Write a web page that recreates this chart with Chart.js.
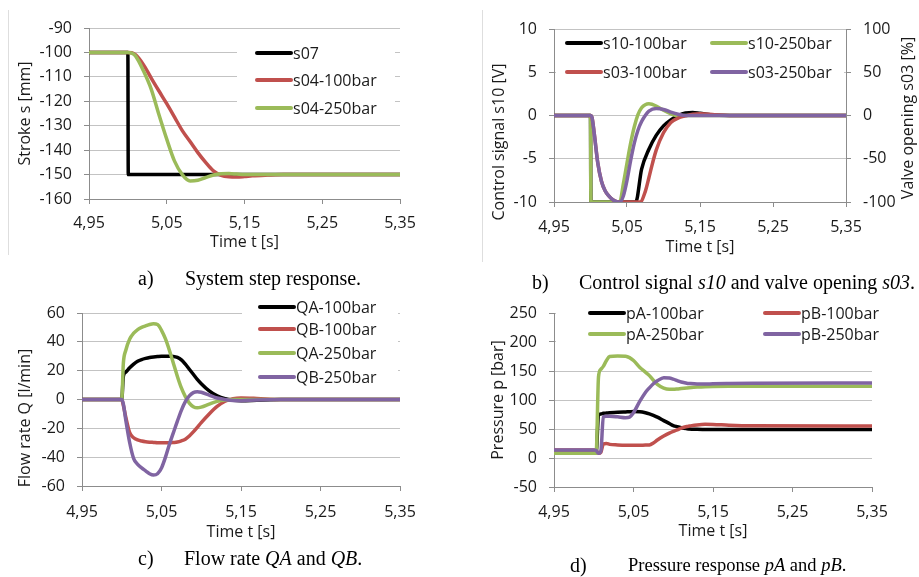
<!DOCTYPE html>
<html>
<head>
<meta charset="utf-8">
<script src="https://cdn.jsdelivr.net/npm/chart.js@4.4.0/dist/chart.umd.min.js"></script>
<style>
  body { margin: 0; background: #fff; width: 919px; height: 577px; position: relative; overflow: hidden; }
  .box { position: absolute; }
  .frame { position: absolute; width: 1px; background: #dedede; }
  .cap { position: absolute; font-family: "Liberation Serif", serif; font-size: 20px; color: #000; white-space: nowrap; line-height: 20px; }
</style>
</head>
<body>
<div class="frame" style="left:8px;top:10px;height:245px"></div>
<div class="frame" style="left:482px;top:10px;height:252px"></div>

<div class="box" style="left:0;top:0"><canvas id="chartA" width="460" height="262"></canvas></div>
<div class="box" style="left:460px;top:0"><canvas id="chartB" width="459" height="262"></canvas></div>
<div class="box" style="left:0;top:288px"><canvas id="chartC" width="460" height="262"></canvas></div>
<div class="box" style="left:460px;top:288px"><canvas id="chartD" width="459" height="262"></canvas></div>

<div class="cap" style="left:138px;top:268px">a)</div>
<div class="cap" style="left:185px;top:268px">System step response.</div>
<div class="cap" style="left:532px;top:272px">b)</div>
<div class="cap" style="left:579px;top:272px">Control signal <i>s10</i> and valve opening <i>s03</i>.</div>
<div class="cap" style="left:138px;top:548px">c)</div>
<div class="cap" style="left:184px;top:548px">Flow rate <i>QA</i> and <i>QB</i>.</div>
<div class="cap" style="left:570px;top:555px">d)</div>
<div class="cap" style="left:628px;top:555px;font-size:18.5px">Pressure response <i>pA</i> and <i>pB</i>.</div>

<script>
// shared x axis ticks (time in s)
const xTicks = [4.95, 5.05, 5.15, 5.25, 5.35];

// a) stroke [mm]
const s07Time = [4.95, 5.0, 5.0005, 5.35];
const s07 = [-100, -100, -150, -150];
const s04Time = [4.95, 5.0, 5.005, 5.01, 5.02, 5.03, 5.04, 5.05, 5.06, 5.07, 5.08, 5.09, 5.1, 5.11, 5.12, 5.13, 5.14, 5.15, 5.16, 5.18, 5.2, 5.35];
const s04_100 = [-100, -100, -100.1, -101, -105, -110.5, -115.8, -121, -126.5, -132, -136.5, -141, -145, -148.5, -150.3, -150.9, -151, -150.8, -150.5, -150.2, -150, -150];
const s04_250 = [-100, -100, -100.3, -101.5, -107.5, -115, -125.5, -135.5, -144.5, -150, -152.6, -152.3, -151.2, -150.2, -149.7, -149.6, -149.8, -150, -150, -150, -150, -150];

// b) control signal s10 [V] and valve opening s03 [%]
const s10_100Time = [4.95, 5.0, 5.0005, 5.062, 5.07, 5.08, 5.09, 5.1, 5.11, 5.12, 5.13, 5.14, 5.15, 5.17, 5.2, 5.35];
const s10_100 = [0, 0, -10, -10, -6.2, -3.9, -2.3, -1.2, -0.5, 0, 0.3, 0.35, 0.25, 0.05, 0, 0];
const s10_250Time = [4.95, 5.0, 5.0005, 5.04, 5.045, 5.05, 5.055, 5.06, 5.065, 5.07, 5.075, 5.08, 5.09, 5.1, 5.11, 5.12, 5.13, 5.35];
const s10_250 = [0, 0, -10, -10, -7.9, -5.5, -3.2, -1.3, 0.1, 0.9, 1.25, 1.35, 1.1, 0.6, 0.2, -0.05, 0, 0];
const s03_100Time = [4.95, 5.0, 5.002, 5.005, 5.01, 5.015, 5.02, 5.025, 5.03, 5.035, 5.04, 5.068, 5.075, 5.08, 5.085, 5.09, 5.1, 5.11, 5.12, 5.13, 5.14, 5.15, 5.17, 5.2, 5.35];
const s03_100 = [0, 0, -2, -20, -55, -76, -87, -93, -97, -99.3, -100, -100, -88, -72, -55, -40, -20, -8, -3, -0.5, 1.5, 2, 1, 0, 0];
const s03_250Time = [4.95, 5.0, 5.002, 5.005, 5.01, 5.015, 5.02, 5.025, 5.03, 5.035, 5.04, 5.045, 5.05, 5.055, 5.06, 5.065, 5.07, 5.075, 5.08, 5.09, 5.1, 5.11, 5.12, 5.13, 5.35];
const s03_250 = [0, 0, -2, -20, -55, -76, -87, -93, -97, -99.3, -100, -93, -75, -52, -32, -17, -7, 0, 5, 8, 7, 4, 1.5, 0, 0];

// c) flow rate [l/min]
const flowTime = [4.95, 5.0, 5.002, 5.005, 5.01, 5.015, 5.02, 5.025, 5.03, 5.035, 5.04, 5.045, 5.05, 5.055, 5.06, 5.065, 5.07, 5.075, 5.08, 5.085, 5.09, 5.095, 5.1, 5.11, 5.12, 5.13, 5.14, 5.15, 5.17, 5.2, 5.35];
const qa_100 = [0, 0, 16, 19, 22, 24.5, 26.5, 27.7, 28.5, 29.1, 29.5, 29.8, 30, 30, 30, 29.9, 29.2, 27.5, 24.5, 21, 17.5, 14, 11, 6, 2.5, 0.5, -0.5, -0.8, -0.5, 0, 0];
const qb_100 = [0, 0, -4, -12, -23, -26.5, -28, -28.8, -29.3, -29.6, -29.8, -30, -30, -30, -30, -29.8, -29.5, -28.7, -27.5, -25.3, -22.5, -19.3, -16, -10, -4.8, -1.2, 0.5, 1, 0.7, 0, 0];
const qa_250 = [0, 0, 25, 34, 42, 46, 48.5, 50, 51, 52, 52.5, 52, 48, 42, 34, 25, 16, 8, 2, -2.5, -5, -5.8, -5.3, -3.2, -1.3, -0.3, 0, 0, 0, 0, 0];
const qb_250 = [0, 0, -3, -14, -30, -41, -45, -47.5, -49.5, -51.5, -52.4, -51.5, -47.5, -40, -31, -23, -15, -7.5, -1.5, 2.5, 4.8, 5.4, 5, 3, 1, 0, -0.7, -0.8, -0.3, 0, 0];

// d) pressure [bar]
const presTime = [4.95, 5.0, 5.003, 5.006, 5.009, 5.012, 5.016, 5.02, 5.03, 5.04, 5.045, 5.05, 5.058, 5.065, 5.07, 5.075, 5.08, 5.088, 5.095, 5.1, 5.105, 5.11, 5.117, 5.12, 5.13, 5.14, 5.15, 5.17, 5.2, 5.35];
const pa_100 = [8, 8, 8, 74, 76, 77, 77.5, 78, 79, 79.5, 79.7, 80, 79.7, 78, 76, 73.5, 70.5, 64.5, 59.5, 56, 54, 52.3, 50.6, 50, 49.4, 49.2, 49, 49, 49, 49];
const pb_100 = [14, 14, 13, 8, 10, 24, 25, 23.5, 22.5, 22, 22, 22, 22, 22.3, 22.5, 26, 31, 38, 43, 46, 48.5, 51.5, 54.3, 55, 57, 58, 57.8, 56.5, 55.5, 55];
const pa_250 = [8, 8, 8, 140, 153, 158, 168, 175, 176, 175.5, 173, 168, 156, 148, 142, 134, 127, 120.5, 118.5, 118.5, 119, 119.8, 120.8, 121.2, 122.3, 123, 123.3, 123.5, 123.5, 123.5];
const pb_250 = [14, 14, 13, 8, 12, 71, 72, 72, 71, 69.5, 70.5, 78, 98, 113, 121, 128, 133, 138.5, 138, 136, 133.5, 131, 129, 128.5, 127.5, 127.5, 128, 128.5, 129, 129.5];

const BLACK = '#000000', RED = '#c0504d', GREEN = '#9bbb59', PURPLE = '#8064a2';
const gridColor = '#c3c3c3';
const axisColor = '#8c8c8c';
const textColor = '#1a1a1a';
const tickFont = { family: 'Open Sans', size: 16 };
const titleFont = { family: 'Open Sans', size: 16 };

function series(label, color, xs, ys, axis) {
    return {
        label: label,
        data: xs.map((x, i) => ({ x: x, y: ys[i] })),
        borderColor: color,
        backgroundColor: color,
        borderWidth: 3.5,
        pointRadius: 0,
        cubicInterpolationMode: 'monotone',
        yAxisID: axis || 'y'
    };
}

// legend drawn inside the plot on a white box, plus side titles placed like the spreadsheet
const insideLegend = {
    id: 'insideLegend',
    afterDatasetsDraw(chart, args, opts) {
        if (!opts.items) return;
        const ctx = chart.ctx;
        ctx.save();
        ctx.fillStyle = '#ffffff';
        ctx.fillRect(opts.box[0], opts.box[1], opts.box[2], opts.box[3]);
        ctx.font = '16px "Open Sans"';
        ctx.textBaseline = 'middle';
        ctx.lineCap = 'round';
        chart.data.datasets.forEach((ds, i) => {
            const pos = opts.items[i];
            ctx.strokeStyle = ds.borderColor;
            ctx.lineWidth = 4;
            ctx.beginPath();
            ctx.moveTo(pos[0] + 2, pos[1]);
            ctx.lineTo(pos[0] + 36, pos[1]);
            ctx.stroke();
            ctx.fillStyle = textColor;
            ctx.fillText(ds.label, pos[0] + 38, pos[1] + 1);
        });
        (opts.titles || []).forEach(t => {
            ctx.save();
            ctx.translate(t.x, t.y);
            ctx.rotate(-Math.PI / 2);
            ctx.textAlign = 'center';
            ctx.fillText(t.text, 0, 0);
            ctx.restore();
        });
        ctx.restore();
    }
};

function xAxis(height, pad, titlePad) {
    return {
        type: 'linear',
        min: 4.95,
        max: 5.35,
        afterBuildTicks: s => { s.ticks = xTicks.map(v => ({ value: v })); },
        afterFit: s => { s.height = height; },
        grid: { drawOnChartArea: false, color: axisColor, tickLength: 5 },
        border: { color: axisColor },
        ticks: {
            padding: pad, color: textColor, font: tickFont, maxRotation: 0, autoSkip: false,
            callback: v => v.toFixed(2).replace('.', ',')
        },
        title: { display: true, text: 'Time t [s]', color: textColor, font: titleFont, padding: { top: 0, bottom: titlePad } }
    };
}

function yAxis(text, min, max, step, width, titlePad, position) {
    return {
        position: position || 'left',
        min: min,
        max: max,
        afterFit: s => { s.width = width; },
        grid: { color: gridColor, tickColor: axisColor, tickLength: 5, drawOnChartArea: position !== 'right' },
        border: { color: axisColor },
        ticks: { stepSize: step, padding: 12, color: textColor, font: tickFont },
        title: { display: titlePad !== null, text: text, color: textColor, font: titleFont, padding: { top: titlePad, bottom: 0 } }
    };
}

function makeChart(id, datasets, scales, padding, legend) {
    // later series on top, as in the original spreadsheet chart
    datasets.forEach((d, i) => { d.order = datasets.length - i; });
    return new Chart(document.getElementById(id), {
        type: 'line',
        data: { datasets: datasets },
        options: {
            responsive: false,
            animation: false,
            layout: { padding: padding },
            plugins: { legend: { display: false }, tooltip: { enabled: false }, insideLegend: legend },
            scales: scales
        },
        plugins: [insideLegend]
    });
}

makeChart('chartA', [
    series('s07', BLACK, s07Time, s07),
    series('s04-100bar', RED, s04Time, s04_100),
    series('s04-250bar', GREEN, s04Time, s04_250)
], {
    x: xAxis(63, 10, 10),
    y: yAxis('Stroke s [mm]', -160, -90, 10, 89, 16)
}, { top: 28, right: 60, left: 0, bottom: 0 }, {
    box: [237, 38, 158, 82],
    items: [[255, 53], [255, 80], [255, 108]]
});

makeChart('chartB', [
    series('s10-100bar', BLACK, s10_100Time, s10_100),
    series('s10-250bar', GREEN, s10_250Time, s10_250),
    series('s03-100bar', RED, s03_100Time, s03_100, 'y1'),
    series('s03-250bar', PURPLE, s03_250Time, s03_250, 'y1')
], {
    x: xAxis(60, 11, 5),
    y: yAxis('Control signal s10 [V]', -10, 10, 5, 94, null),
    y1: yAxis('Valve opening s03 [%]', -100, 100, 50, 73, null, 'right')
}, { top: 29, right: 0, left: 0, bottom: 0 }, {
    box: [96, 31, 288, 54],
    items: [[105, 43], [250, 43], [105, 72], [250, 72]],
    titles: [
        { text: 'Control signal s10 [V]', x: 39, y: 142 },
        { text: 'Valve opening s03 [%]', x: 448, y: 118 }
    ]
});

makeChart('chartC', [
    series('QA-100bar', BLACK, flowTime, qa_100),
    series('QB-100bar', RED, flowTime, qb_100),
    series('QA-250bar', GREEN, flowTime, qa_250),
    series('QB-250bar', PURPLE, flowTime, qb_250)
], {
    x: xAxis(64, 12, 8),
    y: yAxis('Flow rate Q [l/min]', -60, 60, 20, 82, null)
}, { top: 25, right: 60, left: 0, bottom: 0 }, {
    box: [242, 8, 156, 92],
    items: [[258, 19], [258, 41], [258, 65], [258, 89]],
    titles: [{ text: 'Flow rate Q [l/min]', x: 25, y: 130 }]
});

makeChart('chartD', [
    series('pA-100bar', BLACK, presTime, pa_100),
    series('pB-100bar', RED, presTime, pb_100),
    series('pA-250bar', GREEN, presTime, pa_250),
    series('pB-250bar', PURPLE, presTime, pb_250)
], {
    x: xAxis(63, 11, 9),
    y: yAxis('Pressure p [bar]', -50, 250, 50, 94, 29)
}, { top: 25, right: 47, left: 0, bottom: 0 }, {
    box: [96, 12, 316, 50],
    items: [[128, 25], [303, 25], [128, 46], [303, 46]]
});
</script>
</body>
</html>
